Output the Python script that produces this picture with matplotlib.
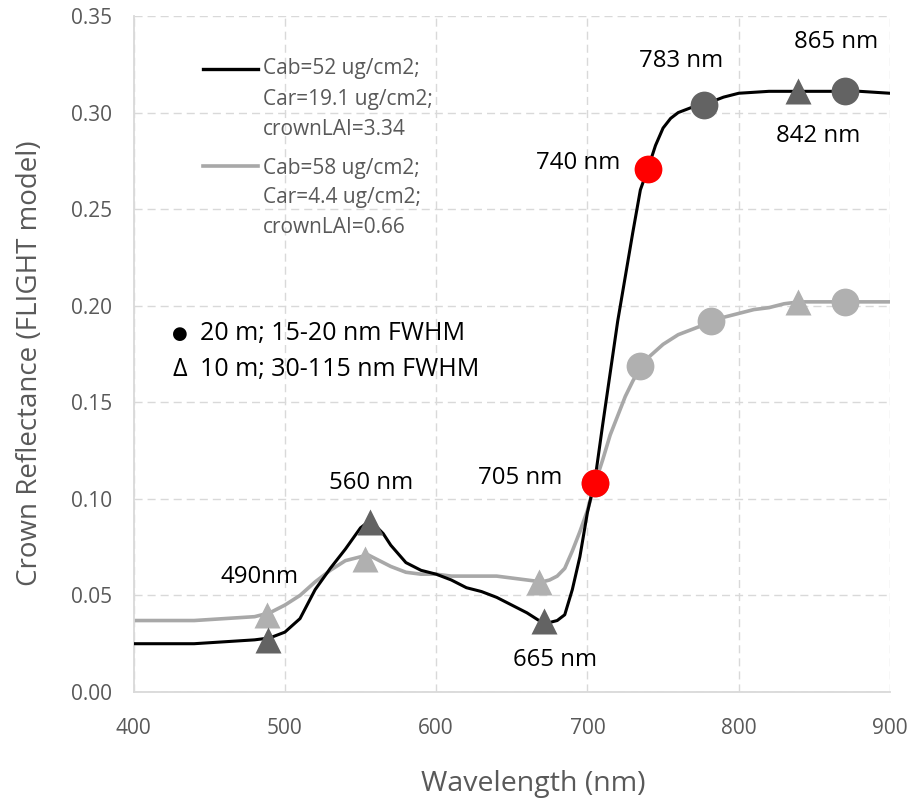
import matplotlib
matplotlib.use("Agg")
import matplotlib.pyplot as plt
from matplotlib.lines import Line2D

plt.rcParams['font.family'] = ['Open Sans', 'DejaVu Sans']

# ---- spectra ----
wl_black = [400, 420, 440, 460, 480, 490, 500, 510, 520, 530, 540, 550, 555, 560, 565, 570, 580, 590,
            600, 610, 620, 630, 640, 650, 660, 670, 675, 680, 685, 690, 695, 700, 705, 710, 715, 720,
            725, 730, 735, 740, 745, 750, 755, 760, 770, 780, 790, 800, 820, 840, 860, 880, 900]
refl_black = [0.025, 0.025, 0.025, 0.026, 0.027, 0.028, 0.031, 0.038, 0.053, 0.064, 0.074, 0.085, 0.088,
              0.086, 0.082, 0.076, 0.067, 0.063, 0.061, 0.058, 0.054, 0.052, 0.049, 0.045, 0.041, 0.036,
              0.036, 0.037, 0.040, 0.053, 0.070, 0.093, 0.110, 0.138, 0.165, 0.192, 0.215, 0.238, 0.260,
              0.271, 0.283, 0.292, 0.297, 0.300, 0.303, 0.305, 0.308, 0.310, 0.311, 0.311, 0.311, 0.311, 0.310]

wl_gray = [400, 420, 440, 460, 480, 490, 500, 510, 520, 530, 540, 550, 555, 560, 570, 580, 590, 600,
           610, 620, 630, 640, 650, 660, 670, 675, 680, 685, 690, 695, 700, 705, 710, 715, 720, 725,
           730, 735, 740, 750, 760, 770, 780, 790, 800, 810, 820, 830, 840, 860, 880, 900]
refl_gray = [0.037, 0.037, 0.037, 0.038, 0.039, 0.041, 0.045, 0.050, 0.057, 0.063, 0.068, 0.070, 0.071,
             0.069, 0.065, 0.062, 0.061, 0.061, 0.060, 0.060, 0.060, 0.060, 0.059, 0.058, 0.057, 0.058,
             0.060, 0.064, 0.073, 0.083, 0.094, 0.108, 0.120, 0.133, 0.143, 0.153, 0.161, 0.168, 0.173,
             0.180, 0.185, 0.188, 0.191, 0.194, 0.196, 0.198, 0.199, 0.201, 0.202, 0.202, 0.202, 0.202]

# ---- band markers ----
tri_black_x = [489, 556, 671, 839]
tri_black_y = [0.027, 0.088, 0.037, 0.311]
circ_black_x = [777, 870]
circ_black_y = [0.304, 0.311]
red_x = [705, 740]
red_y = [0.108, 0.271]
tri_gray_x = [488, 553, 668, 839]
tri_gray_y = [0.040, 0.069, 0.057, 0.202]
circ_gray_x = [705, 735, 782, 870]
circ_gray_y = [0.108, 0.169, 0.192, 0.202]

band_labels = ["490nm", "560 nm", "665 nm", "705 nm", "740 nm", "783 nm", "865 nm", "842 nm"]
band_anchor_x = [489, 556, 671, 705, 740, 777, 870, 839]
band_anchor_y = [0.027, 0.088, 0.037, 0.108, 0.271, 0.304, 0.311, 0.311]

legend_black = ["Cab=52 ug/cm2;", "Car=19.1 ug/cm2;", "crownLAI=3.34"]
legend_gray = ["Cab=58 ug/cm2;", "Car=4.4 ug/cm2;", "crownLAI=0.66"]
note_symbols = ["\u25CF", "\u0394"]
note_texts = ["20 m; 15-20 nm FWHM", "10 m; 30-115 nm FWHM"]

xticks = [400, 500, 600, 700, 800, 900]
yticks = [0.00, 0.05, 0.10, 0.15, 0.20, 0.25, 0.30, 0.35]

BLACK = "#000000"
LINEGRAY = "#a8a8a8"
LGRAY = "#b0b0b0"
DGRAY = "#636363"
RED = "#ff0000"
TXT = "#595959"
GRID = "#d9d9d9"

fig = plt.figure(figsize=(9.10, 8.02), dpi=100)
ax = fig.add_axes([133.6/910, 1 - 692/802, 756.4/910, 676/802])

ax.plot(wl_gray, refl_gray, color=LINEGRAY, lw=2.6, zorder=2)
ax.plot(wl_black, refl_black, color=BLACK, lw=2.2, zorder=3)

ms_c = 20
ms_t = 19
ax.plot(tri_gray_x, tri_gray_y, ls='none', marker='^', ms=ms_t, color=LGRAY, mec='none', zorder=4)
ax.plot(circ_gray_x, circ_gray_y, ls='none', marker='o', ms=ms_c, color=LGRAY, mec='none', zorder=4)
ax.plot(tri_black_x, tri_black_y, ls='none', marker='^', ms=ms_t, color=DGRAY, mec='none', zorder=5)
ax.plot(circ_black_x, circ_black_y, ls='none', marker='o', ms=ms_c, color=DGRAY, mec='none', zorder=5)
ax.plot(red_x, red_y, ls='none', marker='o', ms=ms_c, color=RED, mec='none', zorder=6)

offsets = [(-9, 63), (2, 39), (11, -39), (-75, 5), (-70, 6), (-23, 44), (-8, 49), (20, -45)]
for lab, x, y, off in zip(band_labels, band_anchor_x, band_anchor_y, offsets):
    ax.annotate(lab, (x, y), xytext=off, textcoords='offset pixels', ha='center', va='center',
                fontsize=17.3, color=BLACK, zorder=7)

ax.set_xlim(400, 900)
ax.set_ylim(0, 0.35)
ax.set_xticks(xticks)
ax.set_yticks(yticks)
ax.set_yticklabels([f"{v:.2f}" for v in yticks])
ax.grid(True, color=GRID, lw=1.0, dashes=(5.8, 3.6))
ax.set_axisbelow(True)
for s in ['top', 'right']:
    ax.spines[s].set_visible(False)
for s in ['left', 'bottom']:
    ax.spines[s].set_color(GRID)
    ax.spines[s].set_linewidth(1.3)
ax.tick_params(axis='both', length=0, labelsize=15, colors=TXT)
ax.tick_params(axis='y', pad=15.5)
ax.tick_params(axis='x', pad=18.5)
ax.set_xlabel("Wavelength (nm)", fontsize=20.5, color=TXT, va='center', ha='center')
ax.xaxis.set_label_coords(0.528, -0.136)
ax.set_ylabel("Crown Reflectance (FLIGHT model)", fontsize=20, color=TXT, va='center', ha='center')
ax.yaxis.set_label_coords(-0.137, 0.487)

# legend (manual)
tr = ax.transAxes
ax.add_line(Line2D([0.0913, 0.164], [0.9216, 0.9216], transform=tr, color=BLACK, lw=2.4))
for t, yy in zip(legend_black, [0.9216, 0.8765, 0.8314]):
    ax.text(0.1706, yy, t, transform=tr, va='center', ha='left', fontsize=15, color=TXT)
ax.add_line(Line2D([0.0913, 0.164], [0.778, 0.778], transform=tr, color=LINEGRAY, lw=2.6))
for t, yy in zip(legend_gray, [0.7751, 0.7308, 0.6864]):
    ax.text(0.1706, yy, t, transform=tr, va='center', ha='left', fontsize=15, color=TXT)

# symbol notes
ax.text(0.0610, 0.5296, note_symbols[0], transform=tr, va='center', ha='center', fontsize=13,
        color=BLACK, family=['DejaVu Sans'])
ax.text(0.0610, 0.4778, note_symbols[1], transform=tr, va='center', ha='center', fontsize=18,
        color=BLACK)
for t, yy in zip(note_texts, [0.5296, 0.4778]):
    ax.text(0.0878, yy, t, transform=tr, va='center', ha='left', fontsize=18, color=BLACK)

fig.savefig("out.png", dpi=100)
